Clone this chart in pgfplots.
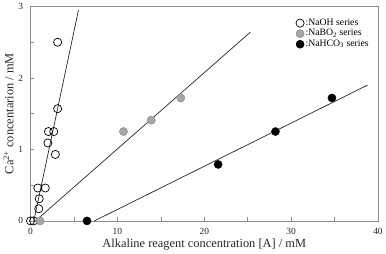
\documentclass[border=0pt]{standalone}
\usepackage{pgfplots}
\pgfplotsset{compat=1.18}
\usepackage{fontspec}
\setmainfont{Liberation Serif}
\definecolor{axgray}{HTML}{8C8C8C}
\definecolor{boFill}{HTML}{A6A6A6}
\definecolor{boEdge}{HTML}{8A8A8A}
\begin{document}
\begin{tikzpicture}
\begin{axis}[
  scale only axis,
  width=350pt, height=216pt,
  xmin=0, xmax=40, ymin=0, ymax=3,
  xtick={0,10,20,30,40}, ytick={0,1,2,3},
  minor xtick={5,15,25,35}, minor ytick={0.5,1.5,2.5},
  tick align=inside,
  major tick length=4pt, minor tick length=4pt,
  axis line style={axgray, line width=0.6pt},
  every tick/.style={axgray, line width=0.6pt},
  tick label style={font=\fontsize{9.5}{10}\selectfont, text=black!85},
  xticklabel style={yshift=-4pt},
  yticklabel style={xshift=-4pt},
  /pgf/number format/assume math mode=true,
  xtick pos=bottom, ytick pos=left,
  xlabel={Alkaline reagent concentration [A] / mM},
  ylabel={Ca\textsuperscript{2+} concentarion / mM},
  label style={font=\fontsize{12.5}{13}\selectfont, text=black!85},
  xlabel style={yshift=3pt},
  ylabel style={yshift=-2pt},
  clip=false,
  legend style={at={(0.755,0.955)}, anchor=north west, draw=none, fill=none,
    font=\fontsize{9.8}{10}\selectfont, row sep=0.8pt,
    nodes={inner xsep=0.5pt, inner ysep=0.3pt, text height=6.8pt, text depth=2.4pt},
    /tikz/every odd column/.style={column sep=1pt}},
  legend cell align=left,
  legend image code/.code={\draw[#1] plot coordinates {(0cm,0cm)};},
]
% NaOH series
\addplot[only marks, mark=o, mark size=4.1pt, black, line width=0.7pt]
 coordinates {(0,0) (0.35,0) (0.95,0.17) (1.0,0.31) (0.84,0.46) (1.7,0.46)
 (2.0,1.09) (2.86,0.93) (2.06,1.25) (2.67,1.25) (3.12,1.57) (3.12,2.50)};
\addlegendentry{:NaOH series}
% NaBO2 series
\addplot[only marks, mark=*, mark size=4.1pt, draw=boEdge, fill=boFill, line width=0.5pt]
 coordinates {(1.1,0) (10.7,1.25) (13.9,1.41) (17.3,1.72)};
\addlegendentry{:NaBO\textsubscript{2} series}
% NaHCO3 series
\addplot[only marks, mark=*, mark size=4.1pt, black, fill=black]
 coordinates {(6.5,0) (21.6,0.79) (28.2,1.25) (34.7,1.72)};
\addlegendentry{:NaHCO\textsubscript{3} series}
% fitted lines
\addplot[black!85, line width=0.7pt, forget plot] coordinates {(0.38,0) (5.52,2.95)};
\addplot[black!85, line width=0.7pt, forget plot] coordinates {(0.57,0) (25.3,2.64)};
\addplot[black!85, line width=0.7pt, forget plot] coordinates {(7.35,0) (38.8,1.90)};
\end{axis}
\end{tikzpicture}
\end{document}
